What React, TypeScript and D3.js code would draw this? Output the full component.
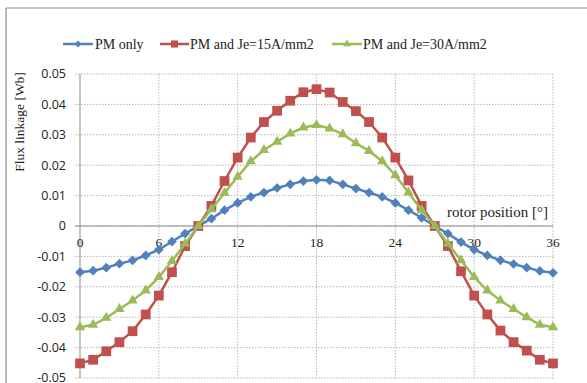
import * as d3 from 'd3'

const positions = d3.range(0, 37)

const pmOnly = [
  -0.0152, -0.0147, -0.0137, -0.0124, -0.0113, -0.0097, -0.0078, -0.0051, -0.0025, 0.0,
  0.0024, 0.0052, 0.0076, 0.0096, 0.011, 0.0125, 0.0137, 0.0148, 0.0152,
  0.015, 0.0137, 0.0123, 0.011, 0.0096, 0.0076, 0.0052, 0.0027, 0.0,
  -0.0025, -0.0053, -0.0078, -0.0097, -0.0113, -0.0125, -0.0137, -0.0148, -0.0154,
]

const je15 = [
  -0.0452, -0.044, -0.0412, -0.0382, -0.0346, -0.0291, -0.0229, -0.0152, -0.0066, 0.0,
  0.0066, 0.0148, 0.0225, 0.0291, 0.0342, 0.0379, 0.0412, 0.044, 0.045,
  0.0439, 0.0408, 0.0378, 0.0342, 0.0291, 0.0225, 0.015, 0.0066, 0.0,
  -0.0066, -0.0149, -0.0229, -0.0291, -0.0344, -0.0382, -0.041, -0.044, -0.0452,
]

const je30 = [
  -0.0333, -0.0325, -0.0302, -0.0273, -0.0245, -0.0212, -0.0168, -0.0115, -0.0058, 0.0,
  0.0055, 0.0109, 0.0162, 0.0213, 0.025, 0.0277, 0.0304, 0.0324, 0.0332,
  0.0321, 0.0302, 0.0272, 0.0247, 0.0213, 0.0167, 0.011, 0.0052, 0.0,
  -0.0058, -0.0113, -0.0168, -0.0212, -0.0245, -0.0273, -0.03, -0.0325, -0.0333,
]

const xTicks = [0, 6, 12, 18, 24, 30, 36]
const yTicks = [0.05, 0.04, 0.03, 0.02, 0.01, 0, -0.01, -0.02, -0.03, -0.04, -0.05]

type Marker = 'diamond' | 'square' | 'triangle'

const series: { label: string; color: string; marker: Marker; values: number[] }[] = [
  { label: 'PM only', color: '#4F81BD', marker: 'diamond', values: pmOnly },
  { label: 'PM and Je=15A/mm2', color: '#C0504D', marker: 'square', values: je15 },
  { label: 'PM and Je=30A/mm2', color: '#9BBB59', marker: 'triangle', values: je30 },
]

const W = 587
const H = 383

function markerPath(type: Marker, size: number) {
  if (type === 'diamond') return d3.symbol(d3.symbolDiamond2, size * size * 0.5)()
  if (type === 'square') return d3.symbol(d3.symbolSquare2, size * size)()
  return d3.symbol(d3.symbolTriangle2, size * size * 0.45)()
}

export default function App() {
  const x = d3.scaleLinear().domain([0, 36]).range([80, 553])
  const y = d3.scaleLinear().domain([-0.05, 0.05]).range([378, 74])

  const line = d3.line<number>()
    .x((_, i) => x(positions[i]))
    .y(d => y(d))

  const legendItems = [
    { x0: 63, x1: 93, tx: 95 },
    { x0: 160, x1: 189, tx: 190 },
    { x0: 332, x1: 362, tx: 363 },
  ]

  return (
    <div style={{ position: 'fixed', left: 0, top: 0 }}>
      <svg width={W} height={H} style={{ display: 'block', background: '#fff' }}>
        {/* outer frame */}
        <line x1={6} x2={W} y1={8} y2={8} stroke="#8c8c8c" strokeWidth={1.2} />
        <line x1={6} x2={6} y1={8} y2={H} stroke="#8c8c8c" strokeWidth={1.2} />

        {/* grid */}
        {yTicks.map(t => (
          <line key={'h' + t} x1={75} x2={553} y1={y(t)} y2={y(t)}
            stroke="#b8b8b8" strokeDasharray="1.5,1.5" />
        ))}
        {xTicks.filter(t => t > 0).map(t => (
          <line key={'v' + t} x1={x(t)} x2={x(t)} y1={y(0.05)} y2={y(-0.05)}
            stroke="#b8b8b8" strokeDasharray="1.5,1.5" />
        ))}
        {/* axes */}
        <line x1={x(0)} x2={x(0)} y1={y(0.05)} y2={y(-0.05)} stroke="#8c8c8c" />
        <line x1={75} x2={x(36)} y1={y(0)} y2={y(0)} stroke="#8c8c8c" />

        {/* y tick labels */}
        {yTicks.map(t => (
          <text key={'yl' + t} x={66} y={y(t)} dy="0.35em" textAnchor="end"
            fontFamily="Open Sans, sans-serif" fontSize={12.5} fill="#222">
            {t === 0 ? '0' : t.toFixed(2)}
          </text>
        ))}
        {/* x tick labels */}
        {xTicks.map(t => (
          <text key={'xl' + t} x={x(t)} y={247} textAnchor="middle"
            fontFamily="Liberation Serif, serif" fontSize={13.5} fill="#222">
            {t}
          </text>
        ))}

        <text x={548} y={217} textAnchor="end" fontFamily="Liberation Serif, serif"
          fontSize={15} fill="#222">rotor position [°]</text>
        <text transform={`translate(24,122) rotate(-90)`} textAnchor="middle"
          fontFamily="Liberation Serif, serif" fontSize={13.5} fill="#222">Flux linkage [Wb]</text>

        {/* series */}
        {series.map(s => (
          <g key={s.label}>
            <path d={line(s.values) ?? ''} fill="none" stroke={s.color} strokeWidth={2.5} />
            {s.values.map((v, i) => (
              <path key={i} d={markerPath(s.marker, s.marker === 'triangle' ? 13 : 11) ?? ''}
                transform={`translate(${x(positions[i])},${y(v)})`} fill={s.color} />
            ))}
          </g>
        ))}

        {/* legend */}
        {series.map((s, i) => {
          const it = legendItems[i]
          const cx = (it.x0 + it.x1) / 2
          return (
            <g key={'lg' + s.label}>
              <line x1={it.x0} x2={it.x1} y1={44} y2={44} stroke={s.color} strokeWidth={2.5} />
              <path d={markerPath(s.marker, s.marker === 'triangle' ? 10 : 8) ?? ''}
                transform={`translate(${cx},44)`} fill={s.color} />
              <text x={it.tx} y={49} fontFamily="Liberation Serif, serif" fontSize={14} fill="#222">
                {s.label}
              </text>
            </g>
          )
        })}
      </svg>
    </div>
  )
}
